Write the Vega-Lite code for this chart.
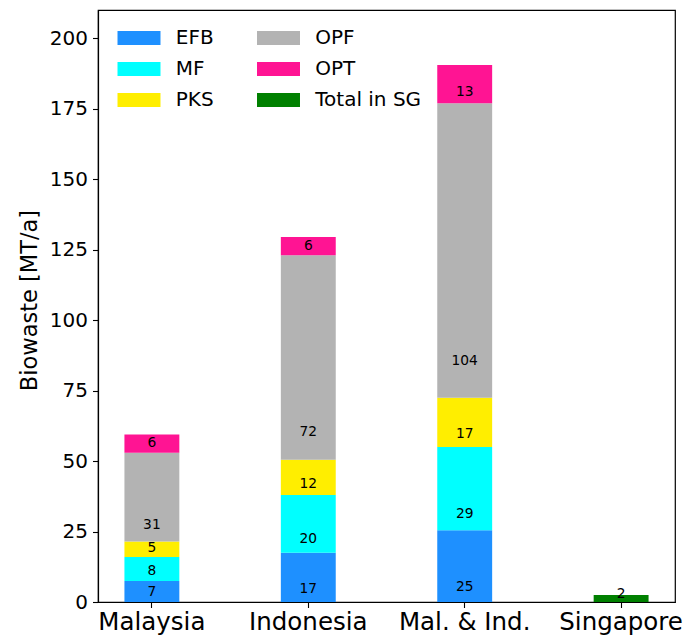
{
  "$schema": "https://vega.github.io/schema/vega-lite/v6.json",
  "width": 577,
  "height": 592,
  "autosize": {"type": "none"},
  "padding": {"left": 98, "top": 10, "right": 11, "bottom": 35},
  "background": "white",
  "config": {
    "font": "DejaVu Sans",
    "view": {"stroke": "black", "strokeWidth": 1.2},
    "axis": {
      "domainColor": "black",
      "domainWidth": 1.2,
      "tickColor": "black",
      "tickWidth": 1.1,
      "tickSize": 5.5,
      "labelColor": "black",
      "titleColor": "black",
      "labelFont": "DejaVu Sans",
      "titleFont": "DejaVu Sans",
      "grid": false
    }
  },
  "data": {
    "values": [
      {"region": "Malaysia", "part": "EFB", "value": 7.49},
      {"region": "Malaysia", "part": "MF", "value": 8.49},
      {"region": "Malaysia", "part": "PKS", "value": 5.49},
      {"region": "Malaysia", "part": "OPF", "value": 31.49},
      {"region": "Malaysia", "part": "OPT", "value": 6.49},
      {"region": "Indonesia", "part": "EFB", "value": 17.49},
      {"region": "Indonesia", "part": "MF", "value": 20.49},
      {"region": "Indonesia", "part": "PKS", "value": 12.49},
      {"region": "Indonesia", "part": "OPF", "value": 72.49},
      {"region": "Indonesia", "part": "OPT", "value": 6.49},
      {"region": "Mal. & Ind.", "part": "EFB", "value": 25.49},
      {"region": "Mal. & Ind.", "part": "MF", "value": 29.49},
      {"region": "Mal. & Ind.", "part": "PKS", "value": 17.49},
      {"region": "Mal. & Ind.", "part": "OPF", "value": 104.49},
      {"region": "Mal. & Ind.", "part": "OPT", "value": 13.49},
      {"region": "Singapore", "part": "Total in SG", "value": 2.49}
    ]
  },
  "transform": [
    {"stack": "value", "groupby": ["region"], "as": ["v0", "v1"]}
  ],
  "encoding": {
    "x": {
      "field": "region",
      "type": "nominal",
      "sort": ["Malaysia", "Indonesia", "Mal. & Ind.", "Singapore"],
      "scale": {"type": "band", "paddingInner": 0.649, "paddingOuter": 0.169},
      "axis": {"title": null, "labelAngle": 0, "labelFontSize": 24.5, "labelPadding": 3}
    }
  },
  "layer": [
    {
      "mark": {"type": "bar"},
      "encoding": {
        "y": {
          "field": "v0",
          "type": "quantitative",
          "scale": {"domain": [0, 210], "nice": false, "zero": true},
          "axis": {
            "title": "Biowaste [MT/a]",
            "values": [0, 25, 50, 75, 100, 125, 150, 175, 200],
            "labelFontSize": 20,
            "labelPadding": 5,
            "titleFontSize": 22.5,
            "titleFontWeight": "normal",
            "titleX": -62,
            "titleY": 290,
            "titleAlign": "center",
            "titleBaseline": "alphabetic",
            "titleAngle": 270
          }
        },
        "y2": {"field": "v1"},
        "color": {
          "field": "part",
          "type": "nominal",
          "scale": {
            "domain": ["EFB", "MF", "PKS", "OPF", "OPT", "Total in SG"],
            "range": ["#1E90FF", "#00FFFF", "#FFEE00", "#B3B3B3", "#FF1493", "#008000"]
          },
          "legend": {
            "orient": "none",
            "legendX": 30,
            "legendY": 17,
            "columns": 2,
            "title": null,
            "padding": 0,
            "symbolType": "M-2,-0.65L2,-0.65L2,0.65L-2,0.65Z",
            "symbolSize": 462,
            "symbolStrokeWidth": 0,
            "symbolOpacity": 1,
            "labelFontSize": 20,
            "labelColor": "black",
            "labelOffset": 25.75,
            "columnPadding": 42.5,
            "rowPadding": 10
          }
        }
      }
    },
    {
      "mark": {
        "type": "text",
        "fontSize": 13.8,
        "baseline": "middle",
        "color": "black",
        "dy": {"expr": "-7.6 - datum.value * 0.2817"}
      },
      "encoding": {
        "y": {"field": "v0", "type": "quantitative"},
        "text": {"field": "value", "type": "quantitative", "format": ".0f"}
      }
    }
  ]
}
